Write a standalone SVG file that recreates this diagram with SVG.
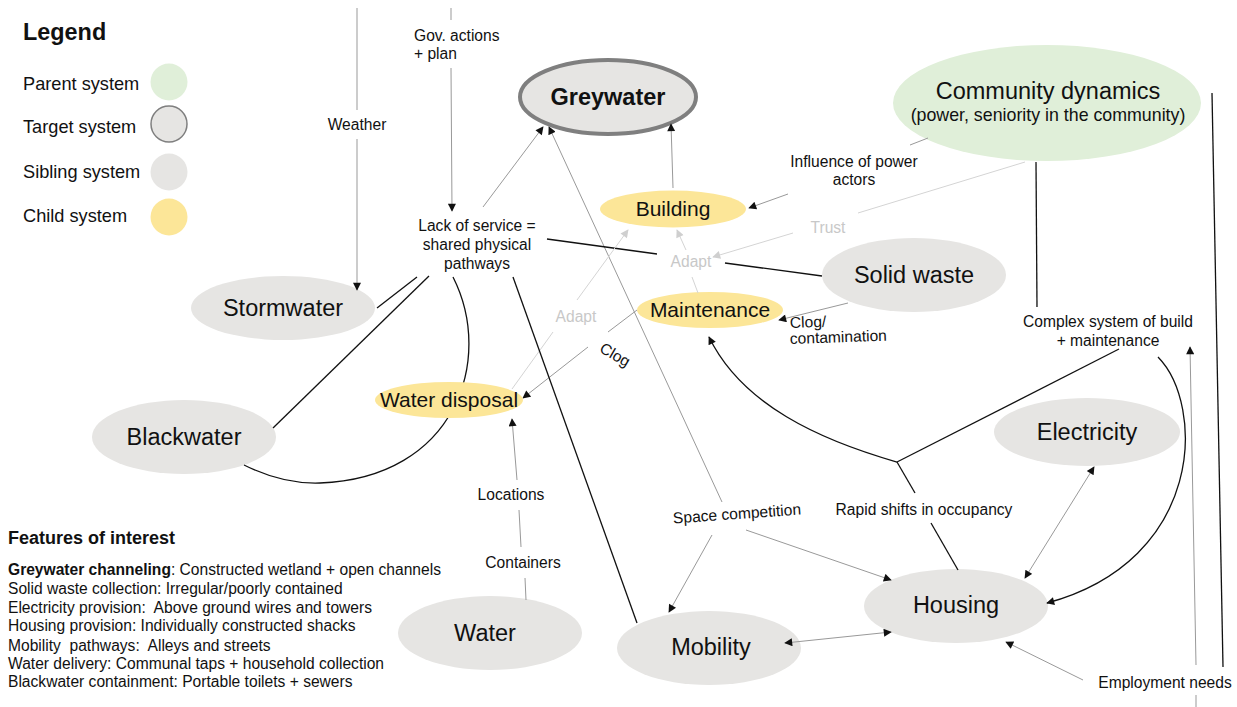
<svg xmlns="http://www.w3.org/2000/svg" width="1237" height="707" viewBox="0 0 1237 707">
<defs>
<style>
text{font-family:"Liberation Sans",Arial,sans-serif;fill:#111}
.lbl{font-size:15.6px;text-anchor:middle}
.big{font-size:23.5px;text-anchor:middle}
.mid{font-size:21px;text-anchor:middle}
.leg{font-size:18.2px}
.feat{font-size:15.6px;white-space:pre}
.faint{fill:#c8c8c8}
.sib{fill:#e6e5e3}
.child{fill:#fce698}
.parent{fill:#e0efd9}
.target{fill:#e6e5e3;stroke:#7f7f7f;stroke-width:4}
.k{stroke:#111;stroke-width:1.3;fill:none}
.g{stroke:#999;stroke-width:1;fill:none}
.lg{stroke:#d4d4d4;stroke-width:1;fill:none}
</style>
<marker id="ah" viewBox="0 0 10 10" refX="9" refY="5" markerWidth="10" markerHeight="8" markerUnits="userSpaceOnUse" orient="auto-start-reverse"><path d="M0,0L10,5L0,10z" fill="#111"/></marker>
<marker id="ahl" viewBox="0 0 10 10" refX="9" refY="5" markerWidth="10" markerHeight="8" markerUnits="userSpaceOnUse" orient="auto-start-reverse"><path d="M0,0L10,5L0,10z" fill="#cfcfcf"/></marker>
</defs>
<rect width="1237" height="707" fill="#fff"/>

<g id="legend">
<text x="23" y="40" style="font-size:23.4px;font-weight:bold">Legend</text>
<text class="leg" x="23" y="90">Parent system</text>
<circle class="parent" cx="169" cy="82" r="18.5"/>
<text class="leg" x="23" y="133">Target system</text>
<circle cx="169" cy="124" r="18" fill="#e6e5e3" stroke="#7f7f7f" stroke-width="1.5"/>
<text class="leg" x="23" y="178">Sibling system</text>
<circle class="sib" cx="169" cy="172" r="18.5"/>
<text class="leg" x="23" y="222">Child system</text>
<circle class="child" cx="169" cy="217" r="18.5"/>
</g>

<g id="features">
<text x="8" y="544" style="font-size:18px;font-weight:bold">Features of interest</text>
<text class="feat" x="8" y="575" xml:space="preserve"><tspan font-weight="bold">Greywater channeling</tspan>: Constructed wetland + open channels</text>
<text class="feat" x="8" y="594" xml:space="preserve">Solid waste collection: Irregular/poorly contained</text>
<text class="feat" x="8" y="613" xml:space="preserve">Electricity provision:  Above ground wires and towers</text>
<text class="feat" x="8" y="631" xml:space="preserve">Housing provision: Individually constructed shacks</text>
<text class="feat" x="8" y="651" xml:space="preserve">Mobility  pathways:  Alleys and streets</text>
<text class="feat" x="8" y="669" xml:space="preserve">Water delivery: Communal taps + household collection</text>
<text class="feat" x="8" y="687" xml:space="preserve">Blackwater containment: Portable toilets + sewers</text>
</g>

<g id="community"><ellipse class="parent" cx="1047" cy="103" rx="154" ry="58"/>
<text class="big" x="1048" y="99">Community dynamics</text>
<text x="1048" y="121" style="font-size:17.8px;text-anchor:middle">(power, seniority in the community)</text></g>
<g id="greywater"><ellipse class="target" cx="608" cy="97" rx="88" ry="37"/>
<text class="big" x="608" y="105" font-weight="bold">Greywater</text></g>
<g id="building"><ellipse class="child" cx="673" cy="209" rx="73" ry="18.5"/><text class="mid" x="673" y="216">Building</text></g>
<g id="maintenance"><ellipse class="child" cx="710" cy="310" rx="73" ry="18"/><text class="mid" x="710" y="317">Maintenance</text></g>
<g id="solidwaste"><ellipse class="sib" cx="914" cy="275" rx="92" ry="37"/><text class="big" x="914" y="283">Solid waste</text></g>
<g id="stormwater"><ellipse class="sib" cx="283" cy="308" rx="92" ry="32"/><text class="big" x="283" y="316">Stormwater</text></g>
<g id="blackwater"><ellipse class="sib" cx="184" cy="437" rx="92" ry="37"/><text class="big" x="184" y="445">Blackwater</text></g>
<g id="electricity"><ellipse class="sib" cx="1087" cy="432" rx="93" ry="34"/><text class="big" x="1087" y="440">Electricity</text></g>
<g id="housing"><ellipse class="sib" cx="956" cy="606" rx="92" ry="37"/><text class="big" x="956" y="613">Housing</text></g>
<g id="mobility"><ellipse class="sib" cx="709" cy="648" rx="92" ry="37"/><text class="big" x="711" y="655">Mobility</text></g>
<g id="water"><ellipse class="sib" cx="490" cy="633" rx="92" ry="37"/><text class="big" x="485" y="641">Water</text></g>

<g id="connectors">
<line class="g" x1="357" y1="8" x2="357" y2="110"/>
<line class="g" x1="357" y1="139" x2="357" y2="290" marker-end="url(#ah)"/>
<line class="g" x1="451" y1="8" x2="451" y2="20"/>
<line class="g" x1="451" y1="68" x2="452" y2="211" marker-end="url(#ah)"/>
<line class="g" x1="483" y1="207" x2="543" y2="127" marker-end="url(#ah)"/>
<line class="g" x1="722" y1="502" x2="549" y2="127" marker-end="url(#ah)"/>
<line class="g" x1="673" y1="188" x2="671" y2="124" marker-end="url(#ah)"/>
<line class="g" x1="788" y1="194" x2="749" y2="208" marker-end="url(#ah)"/>
<line class="g" x1="910" y1="145" x2="928" y2="138"/>
<line class="lg" x1="1025" y1="162" x2="858" y2="213"/>
<line class="lg" x1="793" y1="233" x2="713" y2="257" marker-end="url(#ahl)"/>
<line class="k" x1="547" y1="239" x2="657" y2="254"/>
<line class="k" x1="725" y1="263" x2="822" y2="276"/>
<line class="lg" x1="698" y1="293" x2="692" y2="277"/>
<line class="lg" x1="686" y1="250" x2="677" y2="230" marker-end="url(#ahl)"/>
<line class="lg" x1="512" y1="389" x2="553" y2="332"/>
<line class="lg" x1="577" y1="300" x2="628" y2="230" marker-end="url(#ahl)"/>
<line class="g" x1="848" y1="303" x2="779" y2="320" marker-end="url(#ah)"/>
<line class="g" x1="637" y1="310" x2="608" y2="332"/>
<line class="g" x1="588" y1="347" x2="523" y2="398" marker-end="url(#ah)"/>
<line class="k" x1="417" y1="277" x2="377" y2="308"/>
<line class="k" x1="429" y1="276" x2="273" y2="428"/>
<path class="k" d="M453,277 C495,360 455,478 320,483 C292,484 266,476 244,465"/>
<line class="k" x1="513" y1="277" x2="637" y2="623"/>
<line class="g" x1="517" y1="480" x2="512" y2="419" marker-end="url(#ah)"/>
<line class="g" x1="519" y1="510" x2="521" y2="547"/>
<line class="g" x1="525" y1="578" x2="526" y2="600"/>
<line class="g" x1="712" y1="535" x2="669" y2="612" marker-end="url(#ah)"/>
<line class="g" x1="746" y1="530" x2="891" y2="580" marker-end="url(#ah)"/>
<path class="k" d="M897,462 C820,440 742,405 709,337" marker-end="url(#ah)"/>
<line class="k" x1="897" y1="462" x2="1119" y2="349"/>
<line class="k" x1="897" y1="462" x2="915" y2="493"/>
<line class="k" x1="931" y1="523" x2="958" y2="570"/>
<line class="k" x1="1036" y1="162" x2="1037" y2="307"/>
<path class="k" d="M1158,357 C1205,405 1205,560 1047,603" marker-end="url(#ah)"/>
<line class="g" x1="1196" y1="665" x2="1190" y2="347" marker-end="url(#ah)"/>
<line class="k" x1="1212" y1="93" x2="1223" y2="667"/>
<line class="g" x1="1083" y1="680" x2="1006" y2="642" marker-end="url(#ah)"/>
<line class="g" x1="1196" y1="695" x2="1196" y2="707"/>
<line class="g" x1="1025" y1="578" x2="1094" y2="467" marker-start="url(#ah)" marker-end="url(#ah)"/>
<line class="g" x1="785" y1="643" x2="891" y2="632" marker-start="url(#ah)" marker-end="url(#ah)"/>

<text class="lbl" x="357" y="130">Weather</text>
<text class="lbl" x="414" y="41" style="text-anchor:start">Gov. actions</text>
<text class="lbl" x="414" y="59" style="text-anchor:start">+ plan</text>
<text class="lbl" x="477" y="231">Lack of service =</text>
<text class="lbl" x="477" y="250">shared physical</text>
<text class="lbl" x="477" y="269">pathways</text>
<text class="lbl" x="854" y="167">Influence of power</text>
<text class="lbl" x="854" y="185">actors</text>
<text class="lbl faint" x="828" y="233">Trust</text>
<text class="lbl faint" x="691" y="267">Adapt</text>
<text class="lbl faint" x="576" y="322">Adapt</text>
<text class="lbl" x="790" y="328" style="text-anchor:start" transform="rotate(-2 790 328)">Clog/</text>
<text class="lbl" x="790" y="344" style="text-anchor:start" transform="rotate(-2 790 344)">contamination</text>
<text class="lbl" x="615" y="360" transform="rotate(30 615 355)">Clog</text>
<text class="lbl" x="511" y="500">Locations</text>
<text class="lbl" x="523" y="568">Containers</text>
<text class="lbl" x="737" y="519" transform="rotate(-4 737 514)">Space competition</text>
<text class="lbl" x="924" y="515">Rapid shifts in occupancy</text>
<text class="lbl" x="1108" y="327">Complex system of build</text>
<text class="lbl" x="1108" y="346">+ maintenance</text>
<text class="lbl" x="1165" y="688">Employment needs</text>
</g>

<g id="waterdisposal"><ellipse class="child" cx="449" cy="400" rx="74" ry="18"/><text class="mid" x="449" y="407">Water disposal</text></g>
</svg>
